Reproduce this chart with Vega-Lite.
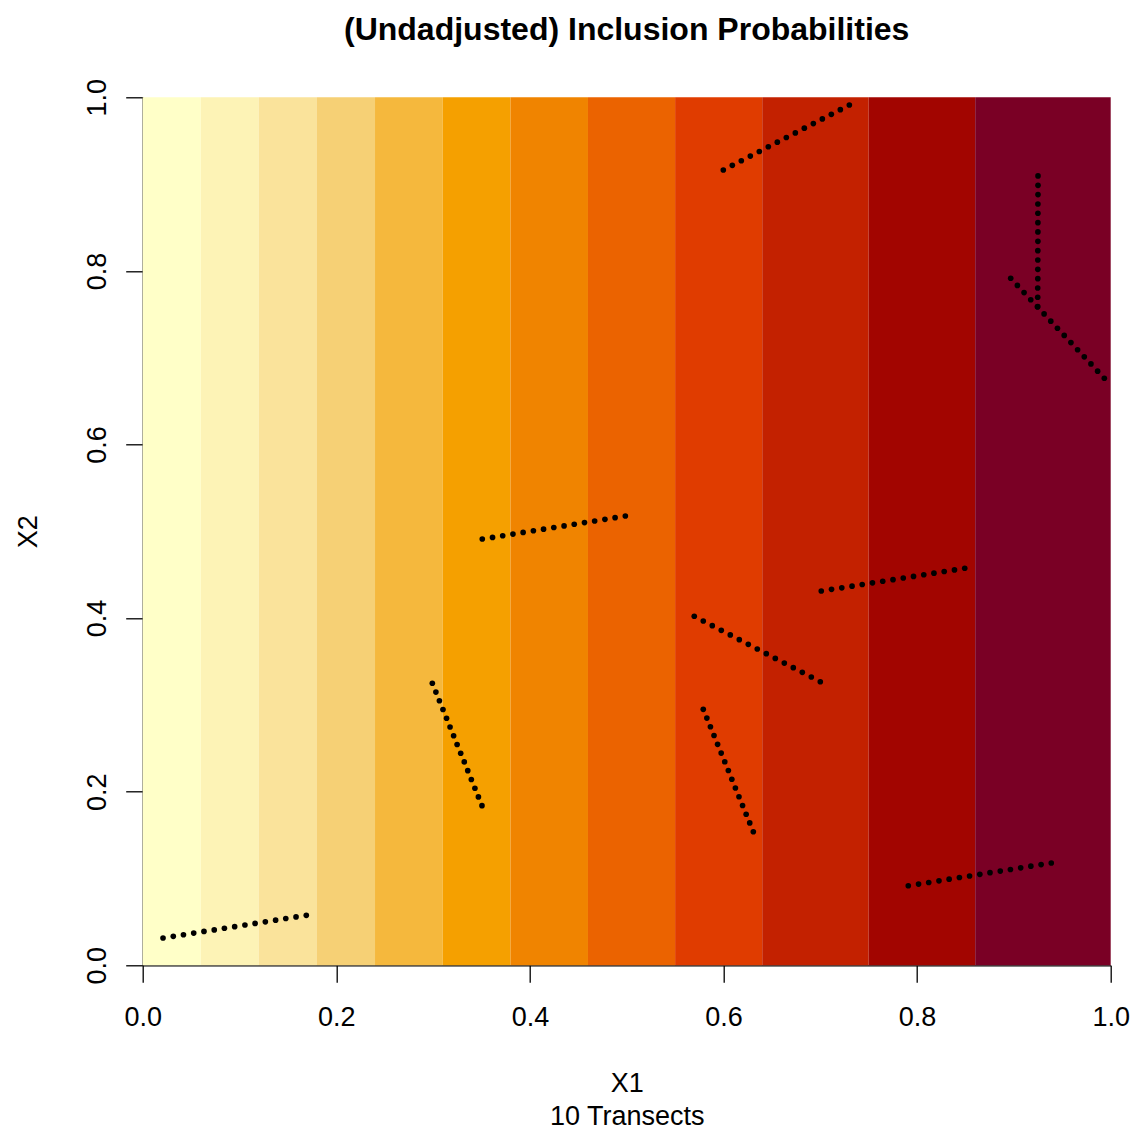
{
  "$schema": "https://vega.github.io/schema/vega-lite/v6.json",
  "width": 968,
  "height": 868,
  "autosize": "none",
  "padding": {"left": 142.7, "top": 97.3, "right": 25.3, "bottom": 165.7},
  "background": "white",
  "title": {"text": "(Undadjusted) Inclusion Probabilities", "font": "Liberation Sans", "fontSize": 32, "fontWeight": "bold", "color": "black", "anchor": "middle", "offset": 32},
  "config": {"view": {"stroke": null}},
  "datasets": {
    "bands": [
      {"band": 1, "from": 0, "to": 0.06},
      {"band": 2, "from": 0.06, "to": 0.12},
      {"band": 3, "from": 0.12, "to": 0.18},
      {"band": 4, "from": 0.18, "to": 0.24},
      {"band": 5, "from": 0.24, "to": 0.31},
      {"band": 6, "from": 0.31, "to": 0.38},
      {"band": 7, "from": 0.38, "to": 0.46},
      {"band": 8, "from": 0.46, "to": 0.55},
      {"band": 9, "from": 0.55, "to": 0.64},
      {"band": 10, "from": 0.64, "to": 0.75},
      {"band": 11, "from": 0.75, "to": 0.86},
      {"band": 12, "from": 0.86, "to": 1.0}
    ],
    "pts": [
      {"t":1,"x":0.021,"y":0.0315},{"t":1,"x":0.0316,"y":0.0334},{"t":1,"x":0.0421,"y":0.0352},{"t":1,"x":0.0527,"y":0.0371},{"t":1,"x":0.0633,"y":0.0390},{"t":1,"x":0.0739,"y":0.0408},{"t":1,"x":0.0844,"y":0.0427},{"t":1,"x":0.0950,"y":0.0445},{"t":1,"x":0.1056,"y":0.0464},{"t":1,"x":0.1161,"y":0.0483},{"t":1,"x":0.1267,"y":0.0501},{"t":1,"x":0.1373,"y":0.0520},{"t":1,"x":0.1478,"y":0.0539},{"t":1,"x":0.1584,"y":0.0557},{"t":1,"x":0.1690,"y":0.0576},
      {"t":2,"x":0.2992,"y":0.3249},{"t":2,"x":0.3029,"y":0.3148},{"t":2,"x":0.3065,"y":0.3048},{"t":2,"x":0.3102,"y":0.2947},{"t":2,"x":0.3139,"y":0.2846},{"t":2,"x":0.3175,"y":0.2745},{"t":2,"x":0.3212,"y":0.2645},{"t":2,"x":0.3248,"y":0.2544},{"t":2,"x":0.3285,"y":0.2443},{"t":2,"x":0.3322,"y":0.2343},{"t":2,"x":0.3358,"y":0.2242},{"t":2,"x":0.3395,"y":0.2141},{"t":2,"x":0.3432,"y":0.2040},{"t":2,"x":0.3468,"y":0.1940},{"t":2,"x":0.3505,"y":0.1839},
      {"t":3,"x":0.3508,"y":0.4911},{"t":3,"x":0.3614,"y":0.4930},{"t":3,"x":0.3719,"y":0.4949},{"t":3,"x":0.3825,"y":0.4968},{"t":3,"x":0.3930,"y":0.4987},{"t":3,"x":0.4036,"y":0.5006},{"t":3,"x":0.4141,"y":0.5025},{"t":3,"x":0.4247,"y":0.5044},{"t":3,"x":0.4353,"y":0.5062},{"t":3,"x":0.4458,"y":0.5081},{"t":3,"x":0.4564,"y":0.5100},{"t":3,"x":0.4669,"y":0.5119},{"t":3,"x":0.4775,"y":0.5138},{"t":3,"x":0.4880,"y":0.5157},{"t":3,"x":0.4986,"y":0.5176},
      {"t":4,"x":0.5998,"y":0.9162},{"t":4,"x":0.6091,"y":0.9216},{"t":4,"x":0.6184,"y":0.9269},{"t":4,"x":0.6277,"y":0.9323},{"t":4,"x":0.6370,"y":0.9376},{"t":4,"x":0.6463,"y":0.9430},{"t":4,"x":0.6556,"y":0.9483},{"t":4,"x":0.6649,"y":0.9537},{"t":4,"x":0.6742,"y":0.9590},{"t":4,"x":0.6835,"y":0.9644},{"t":4,"x":0.6928,"y":0.9697},{"t":4,"x":0.7021,"y":0.9751},{"t":4,"x":0.7114,"y":0.9804},{"t":4,"x":0.7207,"y":0.9858},{"t":4,"x":0.7300,"y":0.9911},
      {"t":5,"x":0.5698,"y":0.4021},{"t":5,"x":0.5791,"y":0.3967},{"t":5,"x":0.5884,"y":0.3913},{"t":5,"x":0.5977,"y":0.3859},{"t":5,"x":0.6070,"y":0.3806},{"t":5,"x":0.6163,"y":0.3752},{"t":5,"x":0.6256,"y":0.3698},{"t":5,"x":0.6349,"y":0.3644},{"t":5,"x":0.6442,"y":0.3590},{"t":5,"x":0.6535,"y":0.3536},{"t":5,"x":0.6628,"y":0.3482},{"t":5,"x":0.6721,"y":0.3429},{"t":5,"x":0.6814,"y":0.3375},{"t":5,"x":0.6907,"y":0.3321},{"t":5,"x":0.7000,"y":0.3267},
      {"t":6,"x":0.5791,"y":0.2949},{"t":6,"x":0.5828,"y":0.2848},{"t":6,"x":0.5865,"y":0.2748},{"t":6,"x":0.5902,"y":0.2647},{"t":6,"x":0.5939,"y":0.2546},{"t":6,"x":0.5976,"y":0.2445},{"t":6,"x":0.6013,"y":0.2345},{"t":6,"x":0.6050,"y":0.2244},{"t":6,"x":0.6086,"y":0.2143},{"t":6,"x":0.6123,"y":0.2043},{"t":6,"x":0.6160,"y":0.1942},{"t":6,"x":0.6197,"y":0.1841},{"t":6,"x":0.6234,"y":0.1740},{"t":6,"x":0.6271,"y":0.1640},{"t":6,"x":0.6308,"y":0.1539},
      {"t":7,"x":0.7010,"y":0.4312},{"t":7,"x":0.7116,"y":0.4331},{"t":7,"x":0.7222,"y":0.4349},{"t":7,"x":0.7328,"y":0.4368},{"t":7,"x":0.7433,"y":0.4387},{"t":7,"x":0.7539,"y":0.4406},{"t":7,"x":0.7645,"y":0.4424},{"t":7,"x":0.7751,"y":0.4443},{"t":7,"x":0.7857,"y":0.4462},{"t":7,"x":0.7963,"y":0.4480},{"t":7,"x":0.8069,"y":0.4499},{"t":7,"x":0.8174,"y":0.4518},{"t":7,"x":0.8280,"y":0.4537},{"t":7,"x":0.8386,"y":0.4555},{"t":7,"x":0.8492,"y":0.4574},
      {"t":8,"x":0.7909,"y":0.0917},{"t":8,"x":0.8015,"y":0.0936},{"t":8,"x":0.8120,"y":0.0954},{"t":8,"x":0.8226,"y":0.0973},{"t":8,"x":0.8331,"y":0.0992},{"t":8,"x":0.8437,"y":0.1011},{"t":8,"x":0.8542,"y":0.1029},{"t":8,"x":0.8648,"y":0.1048},{"t":8,"x":0.8753,"y":0.1067},{"t":8,"x":0.8859,"y":0.1085},{"t":8,"x":0.8964,"y":0.1104},{"t":8,"x":0.9070,"y":0.1123},{"t":8,"x":0.9175,"y":0.1142},{"t":8,"x":0.9281,"y":0.1160},{"t":8,"x":0.9386,"y":0.1179},
      {"t":9,"x":0.9249,"y":0.9094},{"t":9,"x":0.9249,"y":0.8986},{"t":9,"x":0.9249,"y":0.8879},{"t":9,"x":0.9248,"y":0.8771},{"t":9,"x":0.9248,"y":0.8664},{"t":9,"x":0.9248,"y":0.8556},{"t":9,"x":0.9248,"y":0.8449},{"t":9,"x":0.9248,"y":0.8341},{"t":9,"x":0.9247,"y":0.8233},{"t":9,"x":0.9247,"y":0.8126},{"t":9,"x":0.9247,"y":0.8018},{"t":9,"x":0.9247,"y":0.7911},{"t":9,"x":0.9246,"y":0.7803},{"t":9,"x":0.9246,"y":0.7696},{"t":9,"x":0.9246,"y":0.7588},
      {"t":10,"x":0.8967,"y":0.7915},{"t":10,"x":0.9036,"y":0.7833},{"t":10,"x":0.9105,"y":0.7750},{"t":10,"x":0.9174,"y":0.7668},{"t":10,"x":0.9243,"y":0.7586},{"t":10,"x":0.9312,"y":0.7504},{"t":10,"x":0.9381,"y":0.7421},{"t":10,"x":0.9450,"y":0.7339},{"t":10,"x":0.9520,"y":0.7257},{"t":10,"x":0.9589,"y":0.7174},{"t":10,"x":0.9658,"y":0.7092},{"t":10,"x":0.9727,"y":0.7010},{"t":10,"x":0.9796,"y":0.6928},{"t":10,"x":0.9865,"y":0.6845},{"t":10,"x":0.9934,"y":0.6763}
    ]
  },
  "layer": [
    {
      "data": {"name": "bands"},
      "mark": {"type": "rect", "strokeWidth": 0},
      "encoding": {
        "x": {"field": "from", "type": "quantitative", "scale": {"domain": [0, 1], "nice": false, "zero": false},
          "axis": {"values": [0, 0.2, 0.4, 0.6, 0.8, 1.0], "format": ".1f", "title": ["X1", "10 Transects"], "grid": false,
            "domainColor": "black", "domainWidth": 1.3, "tickColor": "black", "tickWidth": 1.3, "tickSize": 17,
            "labelFont": "Liberation Sans", "labelFontSize": 27, "labelColor": "black", "labelBaseline": "alphabetic", "labelPadding": 43,
            "labelFlush": false, "labelOverlap": false,
            "titleFont": "Liberation Sans", "titleFontSize": 27, "titleFontWeight": "normal", "titleColor": "black",
            "titleBaseline": "alphabetic", "titleLineHeight": 33, "titleX": 484, "titleY": 126, "titleAlign": "center"}},
        "x2": {"field": "to"},
        "y": {"datum": 0, "type": "quantitative", "scale": {"domain": [0, 1], "nice": false, "zero": false},
          "axis": {"values": [0, 0.2, 0.4, 0.6, 0.8, 1.0], "format": ".1f", "title": "X2", "grid": false,
            "domainColor": "black", "domainWidth": 1.3, "tickColor": "black", "tickWidth": 1.3, "tickSize": 17,
            "labelFont": "Liberation Sans", "labelFontSize": 27, "labelColor": "black", "labelAngle": -90, "labelAlign": "center", "labelBaseline": "alphabetic", "labelPadding": 20,
            "labelFlush": false, "labelOverlap": false,
            "titleFont": "Liberation Sans", "titleFontSize": 27, "titleFontWeight": "normal", "titleColor": "black",
            "titleAngle": 270, "titleBaseline": "alphabetic", "titleAlign": "center", "titleX": -106, "titleY": 434}},
        "y2": {"datum": 1},
        "color": {"field": "band", "type": "ordinal", "legend": null,
          "scale": {"domain": [1,2,3,4,5,6,7,8,9,10,11,12], "range": ["#FFFFC8", "#FDF3B6", "#FAE39B", "#F6D075", "#F5B83D", "#F5A000", "#F08400", "#EB6300", "#E03C00", "#C32100", "#A20500", "#7A0025"]}}
      }
    },
    {
      "data": {"name": "pts"},
      "mark": {"type": "circle", "size": 32, "color": "black", "opacity": 1},
      "encoding": {
        "x": {"field": "x", "type": "quantitative"},
        "y": {"field": "y", "type": "quantitative"}
      }
    }
  ]
}
